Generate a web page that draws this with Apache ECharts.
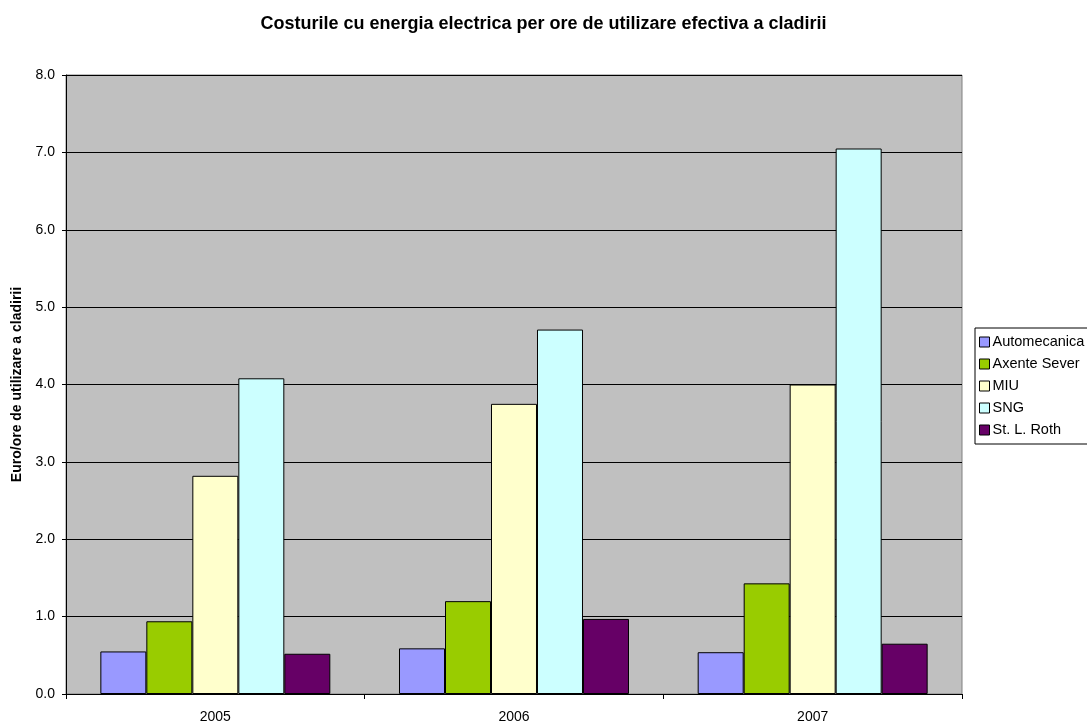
<!DOCTYPE html>
<html>
<head>
<meta charset="utf-8">
<script src="https://cdn.jsdelivr.net/npm/echarts@6/dist/echarts.min.js"></script>
<style>
html,body{margin:0;padding:0;background:#fff;}
#chart{width:1087px;height:724px;}
</style>
</head>
<body>
<div id="chart"></div>
<script>
const categories = ['2005', '2006', '2007'];
const seriesNames = ['Automecanica', 'Axente Sever', 'MIU', 'SNG', 'St. L. Roth'];
const automecanica = [0.55, 0.59, 0.54];
const axenteSever = [0.94, 1.20, 1.43];
const miu = [2.82, 3.75, 4.00];
const sng = [4.08, 4.71, 7.05];
const stLRoth = [0.52, 0.97, 0.65];
const yTicks = [0, 1, 2, 3, 4, 5, 6, 7, 8];
const colors = ['#9999FF', '#99CC00', '#FFFFCC', '#CCFFFF', '#660066'];

const values = [automecanica, axenteSever, miu, sng, stLRoth];
const font = 'Arial, "Liberation Sans", sans-serif';

const chart = echarts.init(document.getElementById('chart'), null, {renderer: 'canvas'});
chart.setOption({
  animation: false,
  backgroundColor: '#ffffff',
  textStyle: {fontFamily: font},
  title: {
    text: 'Costurile cu energia electrica per ore de utilizare efectiva a cladirii',
    left: 'center',
    top: 10,
    textStyle: {fontFamily: font, fontSize: 18, fontWeight: 'bold', color: '#000'}
  },
  legend: {
    orient: 'vertical',
    left: 975,
    top: 328,
    padding: [6, 4, 6, 4],
    borderColor: '#000',
    borderWidth: 1,
    backgroundColor: '#fff',
    itemWidth: 10,
    itemHeight: 10,
    itemGap: 6,
    icon: 'rect',
    data: seriesNames,
    textStyle: {fontFamily: font, fontSize: 14.5, color: '#000', padding: [0, 0, 0, -2], lineHeight: 16},
    itemStyle: {borderColor: '#000', borderWidth: 1}
  },
  grid: {
    left: 66, right: 125, top: 75, bottom: 30,
    show: true,
    backgroundColor: '#C0C0C0',
    borderColor: '#808080',
    borderWidth: 1,
    containLabel: false
  },
  xAxis: {
    type: 'category',
    data: categories,
    axisLine: {lineStyle: {color: '#000', width: 1}},
    axisTick: {show: true, length: 5, lineStyle: {color: '#000'}},
    axisLabel: {fontFamily: font, fontSize: 14, color: '#000', margin: 16}
  },
  yAxis: {
    type: 'value',
    min: yTicks[0],
    max: yTicks[yTicks.length - 1],
    interval: 1,
    name: 'Euro/ore de utilizare a cladirii',
    nameLocation: 'middle',
    nameRotate: 90,
    nameGap: 40,
    nameTextStyle: {fontFamily: font, fontSize: 14, fontWeight: 'bold', color: '#000'},
    axisLine: {show: true, lineStyle: {color: '#000', width: 1}},
    axisTick: {show: true, length: 4, lineStyle: {color: '#000'}},
    axisLabel: {fontFamily: font, fontSize: 14, color: '#000', margin: 11, formatter: v => v.toFixed(1)},
    splitLine: {show: true, lineStyle: {color: '#000', width: 1}}
  },
  series: seriesNames.map((name, i) => ({
    name: name,
    type: 'bar',
    data: values[i],
    barGap: '0%',
    barCategoryGap: '23%',
    itemStyle: {color: colors[i], borderColor: '#000', borderWidth: 1}
  }))
});
</script>
</body>
</html>
